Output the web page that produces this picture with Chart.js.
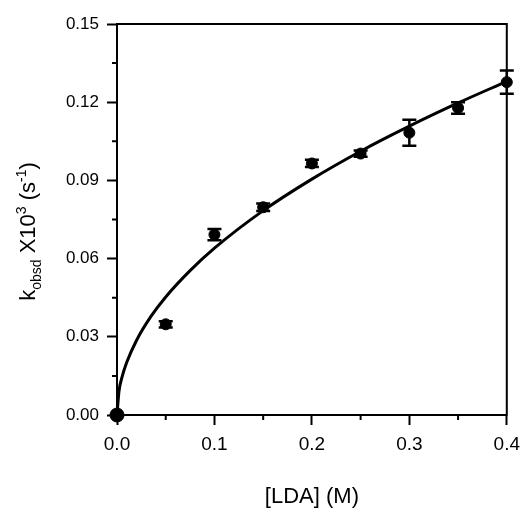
<!DOCTYPE html>
<html>
<head>
<meta charset="utf-8">
<script src="https://cdn.jsdelivr.net/npm/chart.js@4.4.1/dist/chart.umd.min.js"></script>
<style>
  html, body { margin: 0; padding: 0; background: #fff; }
  #wrap { width: 528px; height: 510px; }
</style>
</head>
<body>
<div id="wrap"><canvas id="chart"></canvas></div>
<script>
// measured rate constants with error bars
const lda = [0, 0.05, 0.1, 0.15, 0.2, 0.25, 0.3, 0.35, 0.4];
const kobs = [0, 0.0348, 0.0692, 0.0797, 0.0965, 0.1003, 0.1083, 0.1178, 0.1277];
const kErr = [0, 0.0012, 0.0022, 0.0014, 0.0014, 0.0012, 0.0050, 0.0022, 0.0045];

// fitted curve
const fitX = [0, 0.002, 0.005, 0.01, 0.02, 0.035, 0.05, 0.075, 0.1, 0.15, 0.2, 0.25, 0.3, 0.35, 0.4];
const fitY = [0, 0.009, 0.0143, 0.0202, 0.0286, 0.0379, 0.0453, 0.0554, 0.064, 0.0784, 0.0905, 0.1012, 0.1108, 0.1197, 0.128];

const xTicks = [0, 0.1, 0.2, 0.3, 0.4];
const xMinor = [0.05, 0.15, 0.25, 0.35];
const yTicks = [0, 0.03, 0.06, 0.09, 0.12, 0.15];
const yMinor = [0.015, 0.045, 0.075, 0.105, 0.135];

const FONT = '"Liberation Sans", Arial, Helvetica, sans-serif';
Chart.defaults.font.family = FONT;
Chart.defaults.color = '#000';

// frame, minor ticks and error bars
const extras = {
    id: 'extras',
    afterDatasetsDraw(chart) {
        const ctx = chart.ctx;
        const xs = chart.scales.x, ys = chart.scales.y;
        const a = chart.chartArea;
        ctx.save();
        ctx.strokeStyle = '#000';
        ctx.lineWidth = 2;
        ctx.strokeRect(a.left, a.top, a.right - a.left, a.bottom - a.top);

        // minor ticks
        ctx.beginPath();
        xMinor.forEach(v => {
            const px = xs.getPixelForValue(v);
            ctx.moveTo(px, a.bottom);
            ctx.lineTo(px, a.bottom + 5);
        });
        yMinor.forEach(v => {
            const py = ys.getPixelForValue(v);
            ctx.moveTo(a.left, py);
            ctx.lineTo(a.left - 5, py);
        });
        ctx.stroke();

        // error bars
        ctx.lineWidth = 2.5;
        ctx.beginPath();
        lda.forEach((x, i) => {
            if (!kErr[i]) return;
            const px = xs.getPixelForValue(x);
            const top = ys.getPixelForValue(kobs[i] + kErr[i]);
            const bot = ys.getPixelForValue(kobs[i] - kErr[i]);
            ctx.moveTo(px, top); ctx.lineTo(px, bot);
            ctx.moveTo(px - 7, top); ctx.lineTo(px + 7, top);
            ctx.moveTo(px - 7, bot); ctx.lineTo(px + 7, bot);
        });
        ctx.stroke();
        ctx.restore();
    },
    afterDraw(chart) {
        // y axis title with sub/superscripts
        const ctx = chart.ctx;
        const parts = [
            ['k', 0, 22], ['obsd', 6, 14], [' X10', 0, 22], ['3', -9, 14],
            [' (s', 0, 22], ['-1', -9, 14], [')', 0, 22]
        ];
        ctx.save();
        let total = 0;
        parts.forEach(p => {
            ctx.font = p[2] + 'px ' + FONT;
            total += ctx.measureText(p[0]).width;
        });
        const a = chart.chartArea;
        ctx.translate(27, (a.top + a.bottom) / 2 + 12);
        ctx.rotate(-Math.PI / 2);
        ctx.fillStyle = '#000';
        ctx.textBaseline = 'alphabetic';
        let x = -total / 2;
        parts.forEach(p => {
            ctx.font = p[2] + 'px ' + FONT;
            ctx.fillText(p[0], x, 8 + p[1]);
            x += ctx.measureText(p[0]).width;
        });
        ctx.restore();
    }
};

new Chart(document.getElementById('chart'), {
    type: 'scatter',
    data: {
        datasets: [{
            label: 'fit',
            type: 'line',
            data: fitX.map((x, i) => ({ x: x, y: fitY[i] })),
            borderColor: '#000',
            borderWidth: 3,
            pointRadius: 0,
            cubicInterpolationMode: 'monotone',
            fill: false,
            clip: false
        }, {
            label: 'kobsd',
            data: lda.map((x, i) => ({ x: x, y: kobs[i] })),
            backgroundColor: '#000',
            borderColor: '#000',
            pointRadius: ctx => ctx.dataIndex === 0 ? 7 : 5.5,
            clip: false
        }]
    },
    options: {
        responsive: true,
        maintainAspectRatio: false,
        animation: false,
        layout: { padding: { top: 24, right: 13, left: 0, bottom: 0 } },
        plugins: { legend: { display: false }, tooltip: { enabled: false } },
        scales: {
            x: {
                type: 'linear',
                min: 0, max: 0.4,
                afterBuildTicks: s => { s.ticks = xTicks.map(v => ({ value: v })); },
                afterFit: s => { s.height = 95; },
                ticks: {
                    callback: v => v.toFixed(1),
                    font: { size: 19 },
                    color: '#000',
                    padding: 8,
                    maxRotation: 0
                },
                grid: { drawOnChartArea: false, tickLength: 10, tickWidth: 2, tickColor: '#000' },
                border: { display: true, color: '#000', width: 2 },
                title: {
                    display: true,
                    text: '[LDA] (M)',
                    font: { size: 22 },
                    color: '#000',
                    padding: { top: 0, bottom: 0 }
                }
            },
            y: {
                type: 'linear',
                min: 0, max: 0.15,
                afterBuildTicks: s => { s.ticks = yTicks.map(v => ({ value: v })); },
                afterFit: s => { s.width = 117; },
                ticks: {
                    callback: v => v.toFixed(2),
                    font: { size: 17 },
                    color: '#000',
                    padding: 8
                },
                grid: { drawOnChartArea: false, tickLength: 10, tickWidth: 2, tickColor: '#000' },
                border: { display: true, color: '#000', width: 2 }
            }
        }
    },
    plugins: [extras]
});
</script>
</body>
</html>
